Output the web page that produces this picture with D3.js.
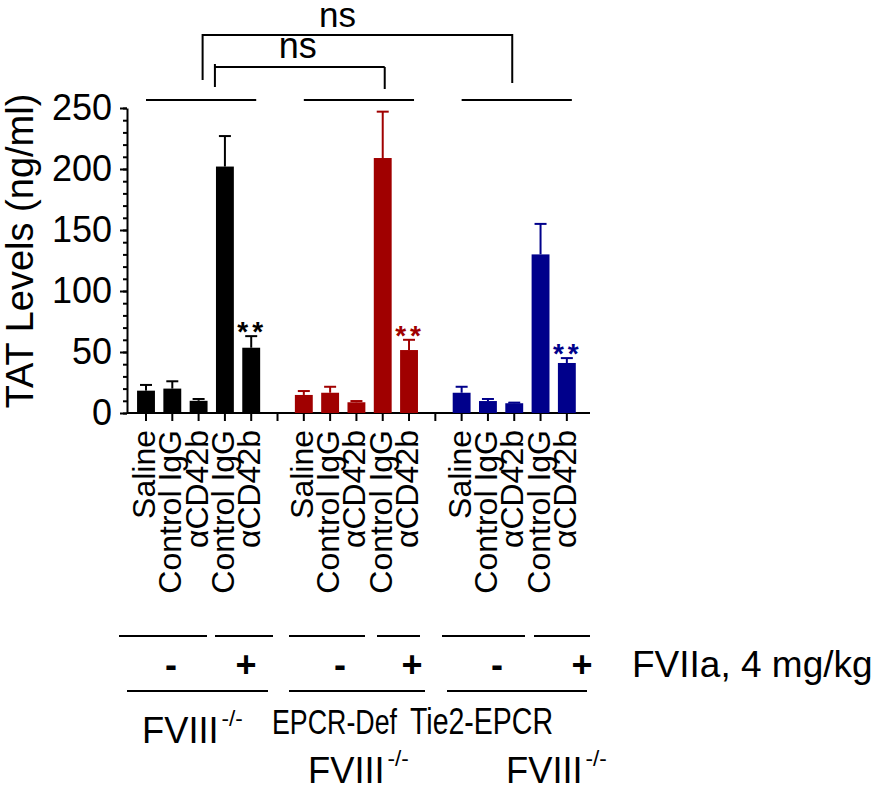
<!DOCTYPE html>
<html>
<head>
    <meta charset="utf-8">
    <title>TAT Levels</title>
    <script src="https://d3js.org/d3.v7.min.js"></script>
    <style>
        body {
            margin: 0;
            background: #fff;
            font-family: "Liberation Sans", Arial, Helvetica, sans-serif;
        }
    </style>
</head>
<body>
    <div id="chart"></div>

    <script>
        // data
        var treatments = ["Saline", "Control IgG", "\u03b1CD42b", "Control IgG", "\u03b1CD42b"];
        var fviiaDose = ["-", "-", "-", "+", "+"];
        var meanFVIII = [18.3, 20, 10, 202, 53.5];
        var semFVIII = [4.7, 6, 1.5, 25, 9.5];
        var meanEPCRDef = [14.8, 16.6, 8.8, 209, 51.6];
        var semEPCRDef = [3.2, 4.9, 1, 38, 8.4];
        var meanTie2 = [16.6, 9.8, 8, 130, 41];
        var semTie2 = [4.9, 1.7, 0.5, 25, 4];
        var sigMarks = ["", "", "", "", "**"];
        var yTicks = [0, 50, 100, 150, 200, 250];
        var groupColors = ["#000000", "#a00000", "#00008b"];

        var groups = [
            { means: meanFVIII, sems: semFVIII },
            { means: meanEPCRDef, sems: semEPCRDef },
            { means: meanTie2, sems: semTie2 }
        ];

        var width = 884;
        var height = 791;
        var font = "'Liberation Sans', Arial, Helvetica, sans-serif";

        var svg = d3.select("#chart")
            .append("svg")
            .attr("width", width)
            .attr("height", height)
            .style("font-family", font);

        // 17 slots: 5 bars, gap, 5 bars, gap, 5 bars
        var x = d3.scaleBand()
            .domain(d3.range(17))
            .range([132.85, 580])
            .paddingInner(0.32)
            .paddingOuter(0.16);
        var y = d3.scaleLinear().domain([0, 250]).range([413, 108]);
        var xc = function(i) { return x(i) + x.bandwidth() / 2; };

        // flatten bars
        var bars = [];
        groups.forEach(function(g, gi) {
            g.means.forEach(function(m, bi) {
                bars.push({ slot: gi * 6 + bi, mean: m, sem: g.sems[bi], color: groupColors[gi],
                            label: treatments[bi], sig: sigMarks[bi] });
            });
        });

        // y axis: minor then major ticks
        var yMinor = svg.append("g")
            .attr("transform", "translate(127,0)")
            .call(d3.axisLeft(y).tickValues(d3.range(0, 251, 10)).tickSize(4).tickFormat(""));
        yMinor.select(".domain").remove();

        var yAxis = svg.append("g")
            .attr("transform", "translate(127,0)")
            .call(d3.axisLeft(y).tickValues(yTicks).tickSize(7).tickSizeOuter(0).tickPadding(8));
        yAxis.selectAll("text").style("font-size", "36px").attr("fill", "#000");
        svg.selectAll(".domain, .tick line").attr("stroke", "#000").attr("stroke-width", 2);

        svg.append("text")
            .attr("transform", "translate(33,251) rotate(-90)")
            .attr("text-anchor", "middle")
            .style("font-size", "38px")
            .text("TAT Levels (ng/ml)");

        // x axis
        var xAxis = svg.append("g")
            .attr("transform", "translate(0,413)")
            .call(d3.axisBottom(x).tickSize(8).tickSizeOuter(0).tickFormat(""));
        xAxis.select(".domain").remove();
        xAxis.selectAll(".tick line").attr("stroke", "#000").attr("stroke-width", 2);
        svg.append("line")
            .attr("x1", 127).attr("x2", 590)
            .attr("y1", y(0)).attr("y2", y(0))
            .attr("stroke", "#000").attr("stroke-width", 2);

        // bars
        svg.selectAll("rect.bar")
            .data(bars)
            .enter()
            .append("rect")
            .attr("class", "bar")
            .attr("x", function(d) { return x(d.slot); })
            .attr("y", function(d) { return y(d.mean); })
            .attr("width", x.bandwidth())
            .attr("height", function(d) { return y(0) - y(d.mean); })
            .attr("fill", function(d) { return d.color; });

        // upper error bars
        var err = svg.selectAll("g.err")
            .data(bars)
            .enter()
            .append("g")
            .attr("stroke", function(d) { return d.color; })
            .attr("stroke-width", 2);
        err.append("line")
            .attr("x1", function(d) { return xc(d.slot); })
            .attr("x2", function(d) { return xc(d.slot); })
            .attr("y1", function(d) { return y(d.mean); })
            .attr("y2", function(d) { return y(d.mean + d.sem); });
        err.append("line")
            .attr("x1", function(d) { return xc(d.slot) - 6; })
            .attr("x2", function(d) { return xc(d.slot) + 6; })
            .attr("y1", function(d) { return y(d.mean + d.sem); })
            .attr("y2", function(d) { return y(d.mean + d.sem); });

        // significance stars
        svg.selectAll("text.sig")
            .data(bars.filter(function(d) { return d.sig; }))
            .enter()
            .append("text")
            .attr("x", function(d) { return xc(d.slot) + 1; })
            .attr("y", function(d) { return y(d.mean + d.sem) + 5; })
            .attr("text-anchor", "middle")
            .attr("fill", function(d) { return d.color; })
            .style("font-size", "28px")
            .style("font-weight", "bold")
            .style("letter-spacing", "4px")
            .text(function(d) { return d.sig; });

        // rotated treatment labels
        svg.selectAll("text.xlab")
            .data(bars)
            .enter()
            .append("text")
            .attr("transform", function(d) { return "translate(" + xc(d.slot) + ",430) rotate(-90)"; })
            .attr("dy", "0.28em")
            .attr("text-anchor", "end")
            .style("font-size", "32px")
            .text(function(d) { return d.label; });

        // group lines above bars and ns brackets
        var lineStyle = function(sel) { return sel.attr("fill", "none").attr("stroke", "#000").attr("stroke-width", 2); };
        groups.forEach(function(g, gi) {
            svg.append("line")
                .attr("x1", xc(gi * 6)).attr("x2", xc(gi * 6 + 4) + 5)
                .attr("y1", 100).attr("y2", 100)
                .call(lineStyle);
        });

        var outerL = xc(2) + 4, outerR = xc(14) - 2;
        svg.append("path")
            .attr("d", "M" + outerL + ",80V35H" + outerR + "V83")
            .call(lineStyle);
        svg.append("text")
            .attr("x", (outerL + outerR) / 2 - 20).attr("y", 27)
            .attr("text-anchor", "middle")
            .style("font-size", "35px")
            .text("ns");

        var innerL = xc(3) - 10, innerR = xc(9) + 2;
        svg.append("path")
            .attr("d", "M" + innerL + ",87V64M" + innerL + ",67H" + innerR + "M" + innerR + ",67V89")
            .call(lineStyle);
        svg.append("text")
            .attr("x", (innerL + innerR) / 2 - 2).attr("y", 58)
            .attr("text-anchor", "middle")
            .style("font-size", "36px")
            .text("ns");

        // treatment table below the axis
        var doseSegs = [[119, 207], [215, 273], [289, 365], [377, 420], [442, 525], [534, 590]];
        var doseX = [171, 246, 340, 412, 497, 582];
        var doseText = [fviiaDose[0], fviiaDose[3], fviiaDose[0], fviiaDose[3], fviiaDose[0], fviiaDose[3]];
        var strainSegs = [[127, 268], [289, 425], [447, 587]];

        doseSegs.forEach(function(s) {
            svg.append("line").attr("x1", s[0]).attr("x2", s[1])
                .attr("y1", 636).attr("y2", 636).call(lineStyle);
        });
        doseX.forEach(function(px, i) {
            svg.append("text")
                .attr("x", px).attr("y", 677)
                .attr("text-anchor", "middle")
                .style("font-size", "36px")
                .style("font-weight", "bold")
                .text(doseText[i]);
        });
        svg.append("text")
            .attr("x", 632).attr("y", 677)
            .style("font-size", "37px")
            .text("FVIIa, 4 mg/kg");
        strainSegs.forEach(function(s) {
            svg.append("line").attr("x1", s[0]).attr("x2", s[1])
                .attr("y1", 691).attr("y2", 691).call(lineStyle);
        });

        // labels in the figure are narrower than the font: squeeze horizontally
        function squeeze(t, px, py, w) {
            var sx = w / t.node().getComputedTextLength();
            t.attr("transform", "translate(" + px + "," + py + ") scale(" + sx + ",1)");
        }
        function fviii(px, py) {
            var t = svg.append("text").style("font-size", "37px");
            t.append("tspan").text("FVIII");
            t.append("tspan").attr("dx", 3).attr("dy", -17).style("font-size", "23px").text("-/-");
            squeeze(t, px, py, 98);
        }
        fviii(142, 743);
        fviii(308, 783);
        fviii(506, 783);

        squeeze(svg.append("text").style("font-size", "36px").text("EPCR-Def"), 272, 734, 125);
        squeeze(svg.append("text").style("font-size", "36px").text("Tie2-EPCR"), 410, 734, 143);
    </script>
</body>
</html>
